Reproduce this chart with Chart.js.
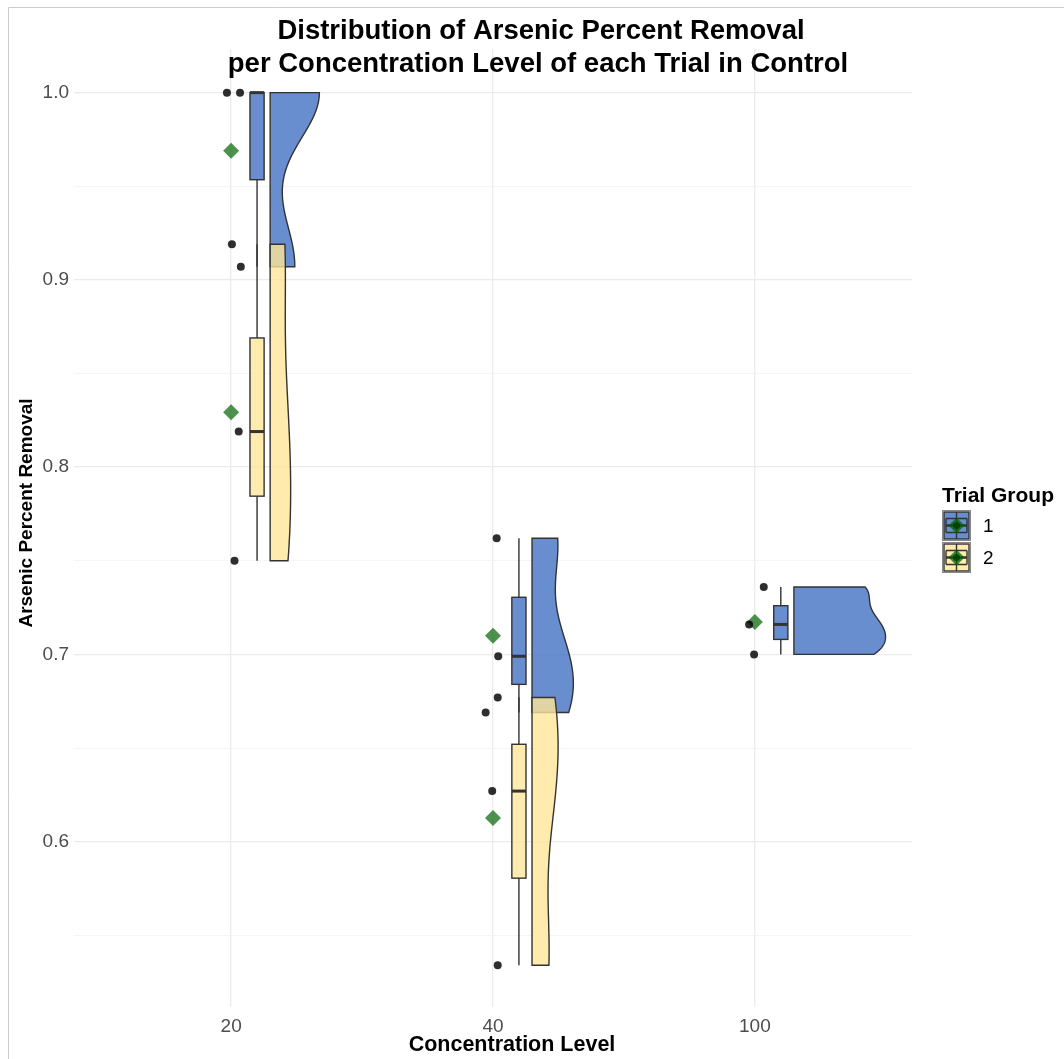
<!DOCTYPE html>
<html>
<head>
<meta charset="utf-8">
<script src="https://cdn.jsdelivr.net/npm/chart.js@4.4.1/dist/chart.umd.min.js"></script>
<style>
  html, body { margin: 0; padding: 0; background: #fff; }
  #wrap { width: 1064px; height: 1059px; }
</style>
</head>
<body>
<div id="wrap"><canvas id="grafico"></canvas></div>
<script>
/* valores: remoção de arsênio por nível de concentração */
const categorias = ['20', '40', '100'];
const grupos = ['1', '2'];
const trial1 = [[1.000, 1.000, 0.907], [0.762, 0.699, 0.669], [0.736, 0.716, 0.700]];
const trial2 = [[0.919, 0.819, 0.750], [0.677, 0.627, 0.534], []];
// deslocamento horizontal (jitter) de cada ponto, em unidades de categoria
const jitter1 = [[-0.016, 0.034, 0.037], [0.014, 0.020, -0.028], [0.034, -0.022, -0.003]];
const jitter2 = [[0.003, 0.029, 0.013], [0.018, -0.003, 0.018], []];
const yTicks = [0.55, 0.6, 0.65, 0.7, 0.75, 0.8, 0.85, 0.9, 0.95, 1.0];

const coresAlpha = ['rgba(68,114,196,0.8)', 'rgba(255,230,153,0.8)'];
const fonte = '"Liberation Sans", Arial, Helvetica, sans-serif';

function quantil(v, p) {
    const s = v.slice().sort((a, b) => a - b);
    const h = (s.length - 1) * p;
    const lo = Math.floor(h);
    if (lo + 1 >= s.length) return s[lo];
    return s[lo] + (h - lo) * (s[lo + 1] - s[lo]);
}

function media(v) {
    return v.reduce((a, b) => a + b, 0) / v.length;
}

function bandaNrd0(v) {
    const n = v.length;
    const m = media(v);
    const sd = Math.sqrt(v.reduce((a, b) => a + (b - m) * (b - m), 0) / (n - 1));
    const iqr = quantil(v, 0.75) - quantil(v, 0.25);
    let lo = Math.min(sd, iqr / 1.34);
    if (!lo) lo = sd || 1;
    return 0.9 * lo * Math.pow(n, -0.2);
}

// densidade kernel gaussiana, cortada no intervalo dos dados
function densidade(v) {
    const bw = bandaNrd0(v);
    const lo = Math.min(...v), hi = Math.max(...v);
    const out = [];
    for (let i = 0; i < 160; i++) {
        const y = lo + (hi - lo) * i / 159;
        let d = 0;
        v.forEach(x => { const z = (y - x) / bw; d += Math.exp(-0.5 * z * z); });
        out.push([y, d / (v.length * bw * Math.sqrt(2 * Math.PI))]);
    }
    return out;
}

function estatBox(v) {
    const q1 = quantil(v, 0.25), q3 = quantil(v, 0.75), iqr = q3 - q1;
    const dentro = v.filter(x => x >= q1 - 1.5 * iqr && x <= q3 + 1.5 * iqr);
    return { q1: q1, med: quantil(v, 0.5), q3: q3, min: Math.min(...dentro), max: Math.max(...dentro) };
}

const series = [trial1, trial2];
const jitters = [jitter1, jitter2];

// densidades e escala por área (máximo global)
const dens = series.map(s => s.map(v => v.length > 1 ? densidade(v) : null));
let maxDens = 0;
dens.forEach(g => g.forEach(d => { if (d) d.forEach(p => { if (p[1] > maxDens) maxDens = p[1]; }); }));

function pontos(g) {
    const out = [];
    series[g].forEach((v, c) => v.forEach((y, i) => out.push({ x: c + 1 + jitters[g][c][i], y: y })));
    return out;
}

const medias = [];
series.forEach(s => s.forEach((v, c) => { if (v.length) medias.push({ x: c + 1, y: media(v) }); }));

const raincloud = {
    id: 'raincloud',
    beforeDatasetsDraw(chart) {
        const ctx = chart.ctx;
        const xs = chart.scales.x, ys = chart.scales.y;
        const a = chart.chartArea;
        ctx.save();
        ctx.beginPath();
        ctx.rect(a.left, a.top, a.right - a.left, a.bottom - a.top);
        ctx.clip();
        // violinos (meia nuvem)
        series.forEach((s, g) => {
            s.forEach((v, c) => {
                const d = dens[g][c];
                if (!d) return;
                const base = c + 1 + 0.149;
                const x0 = xs.getPixelForValue(base);
                ctx.beginPath();
                ctx.moveTo(x0, ys.getPixelForValue(d[0][0]));
                d.forEach(p => {
                    ctx.lineTo(xs.getPixelForValue(base + 0.35 * p[1] / maxDens), ys.getPixelForValue(p[0]));
                });
                ctx.lineTo(x0, ys.getPixelForValue(d[d.length - 1][0]));
                ctx.closePath();
                ctx.fillStyle = coresAlpha[g];
                ctx.fill();
                ctx.strokeStyle = '#333333';
                ctx.lineWidth = 1.4;
                ctx.stroke();
            });
        });
        // boxplots
        series.forEach((s, g) => {
            s.forEach((v, c) => {
                if (!v.length) return;
                const b = estatBox(v);
                const xc = xs.getPixelForValue(c + 1 + 0.099);
                const xl = xs.getPixelForValue(c + 1 + 0.099 - 0.027);
                const xr = xs.getPixelForValue(c + 1 + 0.099 + 0.027);
                ctx.strokeStyle = '#333333';
                ctx.lineWidth = 1.4;
                ctx.beginPath();
                ctx.moveTo(xc, ys.getPixelForValue(b.max));
                ctx.lineTo(xc, ys.getPixelForValue(b.q3));
                ctx.moveTo(xc, ys.getPixelForValue(b.q1));
                ctx.lineTo(xc, ys.getPixelForValue(b.min));
                ctx.stroke();
                const yt = ys.getPixelForValue(b.q3), yb = ys.getPixelForValue(b.q1);
                ctx.fillStyle = coresAlpha[g];
                ctx.fillRect(xl, yt, xr - xl, yb - yt);
                ctx.strokeRect(xl, yt, xr - xl, yb - yt);
                ctx.lineWidth = 3;
                ctx.beginPath();
                ctx.moveTo(xl, ys.getPixelForValue(b.med));
                ctx.lineTo(xr, ys.getPixelForValue(b.med));
                ctx.stroke();
            });
        });
        ctx.restore();
    },
    afterDraw(chart) {
        const ctx = chart.ctx;
        ctx.save();
        // moldura
        ctx.strokeStyle = '#cccccc';
        ctx.lineWidth = 1;
        ctx.beginPath();
        ctx.moveTo(8.5, 1059);
        ctx.lineTo(8.5, 7.5);
        ctx.lineTo(1064, 7.5);
        ctx.stroke();
        // títulos
        ctx.fillStyle = '#000';
        ctx.textAlign = 'center';
        ctx.textBaseline = 'middle';
        ctx.font = 'bold 27.5px ' + fonte;
        ctx.fillText('Distribution of Arsenic Percent Removal', 541, 31);
        ctx.fillText('per Concentration Level of each Trial in Control', 538, 64);
        ctx.font = 'bold 21.5px ' + fonte;
        ctx.fillText('Concentration Level', 512, 1045);
        ctx.save();
        ctx.translate(27, 513);
        ctx.rotate(-Math.PI / 2);
        ctx.font = 'bold 19px ' + fonte;
        ctx.fillText('Arsenic Percent Removal', 0, 0);
        ctx.restore();
        // legenda
        ctx.textAlign = 'left';
        ctx.font = 'bold 21px ' + fonte;
        ctx.fillText('Trial Group', 942, 496);
        ctx.font = '19px ' + fonte;
        grupos.forEach((gName, g) => {
            const kx = 942, ky = 510 + g * 32, kw = 29, kh = 31;
            ctx.fillStyle = '#ffffff';
            ctx.fillRect(kx, ky, kw, kh);
            ctx.strokeStyle = '#888888';
            ctx.lineWidth = 1;
            ctx.strokeRect(kx + 0.5, ky + 0.5, kw - 1, kh - 1);
            ctx.fillStyle = coresAlpha[g];
            ctx.fillRect(kx + 2, ky + 2, kw - 4, kh - 4);
            ctx.strokeStyle = '#333333';
            ctx.lineWidth = 1.4;
            ctx.strokeRect(kx + 2, ky + 2, kw - 4, kh - 4);
            const cx = kx + kw / 2, cy = ky + kh / 2;
            ctx.beginPath();
            ctx.moveTo(cx, ky + 2); ctx.lineTo(cx, ky + kh - 2);
            ctx.moveTo(kx + 4, ky + 8.5); ctx.lineTo(kx + kw - 4, ky + 8.5);
            ctx.moveTo(kx + 4, ky + kh - 8.5); ctx.lineTo(kx + kw - 4, ky + kh - 8.5);
            ctx.moveTo(kx + 4, ky + 8.5); ctx.lineTo(kx + 4, ky + kh - 8.5);
            ctx.moveTo(kx + kw - 4, ky + 8.5); ctx.lineTo(kx + kw - 4, ky + kh - 8.5);
            ctx.stroke();
            ctx.lineWidth = 2.5;
            ctx.beginPath();
            ctx.moveTo(kx + 4, cy); ctx.lineTo(kx + kw - 4, cy);
            ctx.stroke();
            ctx.fillStyle = 'rgba(0,100,0,0.75)';
            ctx.beginPath();
            ctx.moveTo(cx, cy - 8); ctx.lineTo(cx + 8, cy); ctx.lineTo(cx, cy + 8); ctx.lineTo(cx - 8, cy);
            ctx.closePath();
            ctx.fill();
            ctx.fillStyle = 'rgba(0,60,0,0.8)';
            ctx.beginPath();
            ctx.arc(cx, cy, 3.5, 0, Math.PI * 2);
            ctx.fill();
            ctx.fillStyle = '#000';
            ctx.fillText(gName, 983, cy + 1);
        });
        ctx.restore();
    }
};

const config = {
    type: 'scatter',
    data: {
        datasets: [
            { label: 'Trial 1', data: pontos(0), pointRadius: 4, pointBackgroundColor: 'rgba(0,0,0,0.82)', pointBorderWidth: 0 },
            { label: 'Trial 2', data: pontos(1), pointRadius: 4, pointBackgroundColor: 'rgba(0,0,0,0.82)', pointBorderWidth: 0 },
            { label: 'Média', data: medias, pointStyle: 'rectRot', pointRadius: 8, pointBackgroundColor: 'rgba(0,100,0,0.7)', pointBorderWidth: 0 }
        ]
    },
    options: {
        responsive: true,
        maintainAspectRatio: false,
        animation: false,
        layout: { padding: { left: 8, top: 49, right: 152, bottom: 0 } },
        plugins: { legend: { display: false }, tooltip: { enabled: false } },
        scales: {
            x: {
                type: 'linear',
                min: 0.4,
                max: 3.6,
                afterBuildTicks: s => { s.ticks = categorias.map((c, i) => ({ value: i + 1 })); },
                afterFit: s => { s.height = 52; },
                ticks: {
                    callback: v => categorias[Math.round(v) - 1],
                    color: '#4d4d4d',
                    font: { family: fonte, size: 19 },
                    padding: 8,
                    maxRotation: 0
                },
                grid: { color: '#ebebeb', lineWidth: 1.3, drawTicks: false },
                border: { display: false }
            },
            y: {
                min: 0.5117,
                max: 1.0233,
                afterBuildTicks: s => { s.ticks = yTicks.map(v => ({ value: v })); },
                afterFit: s => { s.width = 66; },
                ticks: {
                    callback: v => (Math.round(v * 100) % 10 === 0 ? v.toFixed(1) : ''),
                    color: '#4d4d4d',
                    font: { family: fonte, size: 19 },
                    padding: 5
                },
                grid: {
                    color: c => (Math.round(c.tick.value * 100) % 10 === 0 ? '#ebebeb' : '#f3f3f3'),
                    lineWidth: c => (Math.round(c.tick.value * 100) % 10 === 0 ? 1.3 : 0.8),
                    drawTicks: false
                },
                border: { display: false }
            }
        }
    },
    plugins: [raincloud]
};

const grafico = new Chart(document.getElementById('grafico'), config);
</script>
</body>
</html>
